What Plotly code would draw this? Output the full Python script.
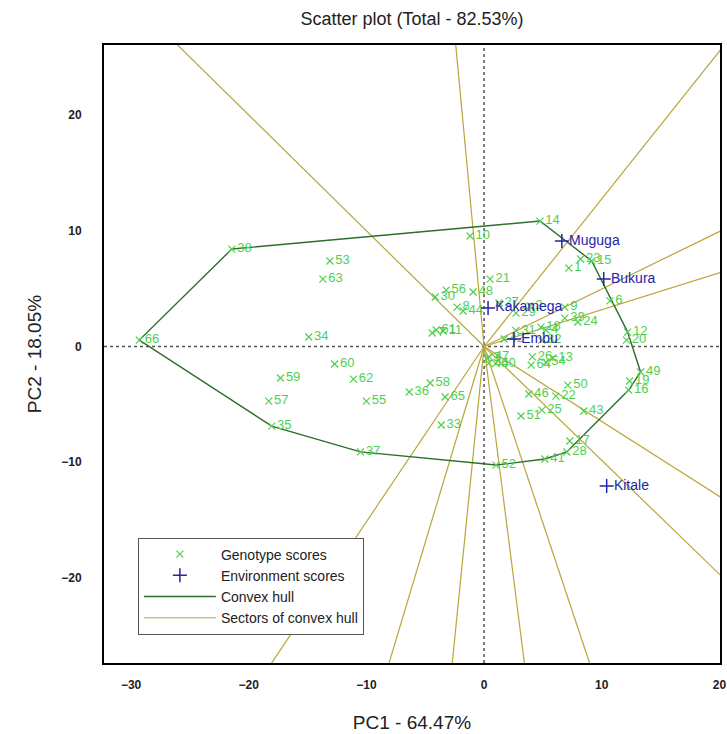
import plotly.graph_objects as go

# Genotype scores (PC1, PC2)
geno_labels = ["1", "2", "3", "4", "6", "7", "8", "9", "10", "11", "12", "13", "14", "15", "16", "17", "18", "19",
               "20", "21", "22", "23", "24", "25", "26", "27", "28", "29", "30", "31", "32", "33", "34", "35", "36",
               "37", "38", "39", "40", "41", "42", "43", "44", "45", "46", "47", "48", "49", "50", "51", "52", "53",
               "54", "55", "56", "57", "58", "59", "60", "61", "62", "63", "64", "65", "66"]
geno_pc1 = [7.2, 3.9, 0.3, 5.25, 10.7, -4.41, -2.29, 6.86, -1.19, -3.47, 12.2, 5.85, 4.75, 9.15, 12.29, 7.29, 4.83, 12.37,
            12.1, 0.51, 6.1, 8.2, 7.97, 4.92, 4.1, 1.27, 7.03, 2.71, -4.15, 2.7, 4.9, -3.64, -14.9, -18.05, -6.36,
            -10.5, -21.44, 6.86, 1.0, 5.17, 1.7, 8.47, -1.78, 0.4, 3.81, 0.45, -0.93, 13.3, 7.12, 3.14, 1.02, -13.1,
            5.25, -10.0, -3.22, -18.3, -4.58, -17.3, -12.7, -4.07, -11.1, -13.7, 4.0, -3.31, -29.3]
geno_pc2 = [6.78, 3.5, -1.0, 1.43, 3.95, 1.17, 3.41, 3.41, 9.55, 1.34, 1.25, -0.99, 10.84, 7.39, -3.76, -8.16, 1.68, -2.98,
            0.56, 5.83, -4.28, 7.56, 2.12, -5.49, -0.9, 3.76, -9.11, 2.89, 4.28, 1.4, 0.55, -6.78, 0.82, -6.87, -3.93,
            -9.1, 8.42, 2.46, -1.45, -9.72, 0.65, -5.57, 3.07, -1.45, -4.1, -0.9, 4.71, -2.2, -3.33, -6.0, -10.24, 7.39,
            -1.35, -4.71, 4.88, -4.71, -3.15, -2.72, -1.51, 1.43, -2.81, 5.83, -1.6, -4.36, 0.56]

# Environment scores
env_labels = ["Muguga", "Bukura", "Kakamega", "Embu", "Kitale"]
env_pc1 = [6.61, 10.17, 0.34, 2.54, 10.42]
env_pc2 = [9.11, 5.83, 3.33, 0.65, -12.05]

# Genotypes forming the convex hull (in order)
hull_ids = ["38", "14", "15", "12", "49", "16", "28", "41", "52", "37", "35", "66"]

title_text = "Scatter plot (Total - 82.53%)"
x_title = "PC1 - 64.47%"
y_title = "PC2 - 18.05%"
x_ticks = [-30, -20, -10, 0, 10, 20]
y_ticks = [-20, -10, 0, 10, 20]

X_RANGE = [-32.3, 20.05]
Y_RANGE = [-27.34, 26.05]

GREEN = "#4fcf4f"
BLUE = "#2424a8"
HULL = "#2c6e2c"
SECT = "#b9a63a"

idx = {g: i for i, g in enumerate(geno_labels)}
hx = [geno_pc1[idx[g]] for g in hull_ids]
hy = [geno_pc2[idx[g]] for g in hull_ids]
hx_closed = hx + [hx[0]]
hy_closed = hy + [hy[0]]

# Sector lines: perpendiculars from origin to each hull edge
sx, sy = [], []
for i in range(len(hx)):
    x1, y1 = hx[i], hy[i]
    x2, y2 = hx[(i + 1) % len(hx)], hy[(i + 1) % len(hx)]
    dx, dy = x2 - x1, y2 - y1
    t = -(x1 * dx + y1 * dy) / (dx * dx + dy * dy)
    fx, fy = x1 + t * dx, y1 + t * dy
    n = (fx * fx + fy * fy) ** 0.5
    L = 200.0
    sx += [0, fx / n * L, None]
    sy += [0, fy / n * L, None]

fig = go.Figure()

fig.add_trace(go.Scatter(x=sx, y=sy, mode="lines", line=dict(color=SECT, width=1.2),
                         name="Sectors of convex hull", legendrank=4, hoverinfo="skip"))
fig.add_trace(go.Scatter(x=hx_closed, y=hy_closed, mode="lines", line=dict(color=HULL, width=1.4),
                         name="Convex hull", legendrank=3, hoverinfo="skip"))
fig.add_trace(go.Scatter(x=geno_pc1, y=geno_pc2, mode="markers+text", text=geno_labels,
                         textposition="middle right",
                         textfont=dict(family="Liberation Sans, Arial", size=13, color=GREEN),
                         marker=dict(symbol="x-thin", size=7, line=dict(color=GREEN, width=1.2), color=GREEN),
                         name="Genotype scores", legendrank=1))
fig.add_trace(go.Scatter(x=env_pc1, y=env_pc2, mode="markers+text", text=env_labels,
                         textposition="middle right",
                         textfont=dict(family="Liberation Sans, Arial", size=14, color=BLUE),
                         marker=dict(symbol="cross-thin", size=10, line=dict(color=BLUE, width=1.5), color=BLUE),
                         name="Environment scores", legendrank=2))

fig.add_shape(type="line", x0=X_RANGE[0], x1=X_RANGE[1], y0=0, y1=0, xref="x", yref="y",
              line=dict(color="#555555", width=1.5, dash="dot"), layer="below")
fig.add_shape(type="line", x0=0, x1=0, y0=Y_RANGE[0], y1=Y_RANGE[1], xref="x", yref="y",
              line=dict(color="#555555", width=1.5, dash="dot"), layer="below")

fig.update_layout(
    width=727, height=734,
    margin=dict(l=104, r=7, t=45, b=71, autoexpand=False),
    paper_bgcolor="white", plot_bgcolor="white",
    font=dict(family="Liberation Sans, Arial", color="#222222"),
    title=dict(text=title_text, x=0.5, xanchor="center", y=0.975, yanchor="middle",
               xref="paper", yref="container", automargin=False,
               font=dict(size=18, color="#222222")),
    showlegend=True,
    legend=dict(x=0.055, y=0.203, xanchor="left", yanchor="top",
                bgcolor="white", bordercolor="#555555", borderwidth=1,
                font=dict(size=14, color="#222222"), tracegroupgap=0, itemwidth=72),
)
fig.update_xaxes(range=X_RANGE, tickvals=x_ticks, showgrid=False, zeroline=False,
                 showline=True, linecolor="black", linewidth=2, mirror=True, automargin=False,
                 ticks="", ticklabelstandoff=10,
                 tickfont=dict(size=12, weight="bold", color="#222222"),
                 title=dict(text=x_title, font=dict(size=19, color="#222222"), standoff=24))
fig.update_yaxes(range=Y_RANGE, tickvals=y_ticks, showgrid=False, zeroline=False,
                 showline=True, linecolor="black", linewidth=2, mirror=True, automargin=False,
                 ticks="", ticklabelstandoff=18,
                 tickfont=dict(size=12, weight="bold", color="#222222"),
                 title=dict(text=y_title, font=dict(size=19, color="#222222"), standoff=15))

fig.write_html("out.html", config={"displayModeBar": False},
               post_script="document.body.style.margin='0';document.body.style.overflow='hidden';")
